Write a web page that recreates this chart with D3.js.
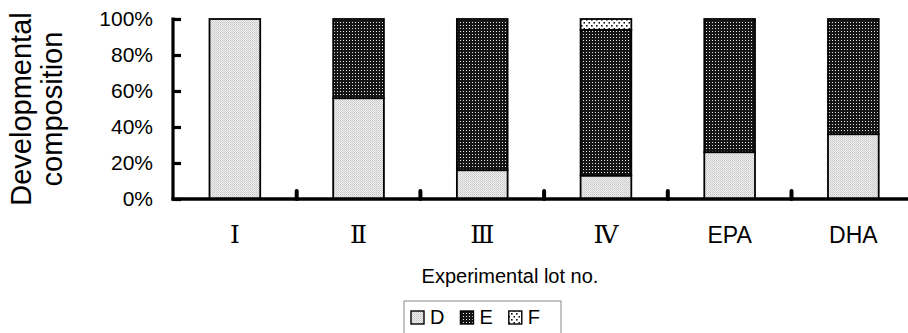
<!DOCTYPE html>
<html>
<head>
<meta charset="utf-8">
<script src="https://cdn.jsdelivr.net/npm/d3@7"></script>
<style>
  html, body { margin: 0; padding: 0; background: #fff; }
  svg { display: block; }
</style>
</head>
<body>
<svg id="chart" width="908" height="333"></svg>
<script>
// ---- data ----
const categories = ["Ⅰ", "Ⅱ", "Ⅲ", "Ⅳ", "EPA", "DHA"];
const seriesNames = ["D", "E", "F"];
const valuesD = [100, 56, 16, 13, 26, 36];
const valuesE = [0, 44, 84, 81, 74, 64];
const valuesF = [0, 0, 0, 6, 0, 0];
const yTicks = [0, 20, 40, 60, 80, 100];
const yTitleLines = ["Developmental", "composition"];
const xTitle = "Experimental lot no.";

(function () {
const rows = categories.map((c, i) => ({ cat: c, D: valuesD[i], E: valuesE[i], F: valuesF[i] }));

const svg = d3.select("#chart");
const plotLeft = 173, plotTop = 19, plotBottom = 199, step = 123.7;
const x = d3.scaleBand().domain(categories)
  .range([plotLeft, plotLeft + step * categories.length])
  .paddingInner(0.59).paddingOuter(0.295);
const y = d3.scaleLinear().domain([0, 100]).range([plotBottom, plotTop]);

// ---- patterns ----
const defs = svg.append("defs");
const pD = defs.append("pattern").attr("id", "patD").attr("patternUnits", "userSpaceOnUse")
  .attr("width", 2).attr("height", 2);
pD.append("rect").attr("width", 2).attr("height", 2).attr("fill", "#efefef");
pD.append("rect").attr("width", 1).attr("height", 1).attr("fill", "#c6c6c6");
pD.append("rect").attr("x", 1).attr("y", 1).attr("width", 1).attr("height", 1).attr("fill", "#d4d4d4");

const pE = defs.append("pattern").attr("id", "patE").attr("patternUnits", "userSpaceOnUse")
  .attr("width", 3).attr("height", 3);
pE.append("rect").attr("width", 3).attr("height", 3).attr("fill", "#151515");
pE.append("rect").attr("x", 1).attr("y", 1).attr("width", 1).attr("height", 1).attr("fill", "#e6e6e6");

const pF = defs.append("pattern").attr("id", "patF").attr("patternUnits", "userSpaceOnUse")
  .attr("width", 5).attr("height", 6);
pF.append("rect").attr("width", 5).attr("height", 6).attr("fill", "#ffffff");
pF.append("rect").attr("x", 1).attr("y", 1).attr("width", 1.6).attr("height", 1.6).attr("fill", "#111");
pF.append("rect").attr("x", 3.5).attr("y", 4).attr("width", 1.6).attr("height", 1.6).attr("fill", "#111");

const fills = { D: "url(#patD)", E: "url(#patE)", F: "url(#patF)" };

// ---- bars ----
const stack = d3.stack().keys(seriesNames)(rows);
svg.append("g").selectAll("g").data(stack).join("g")
  .attr("fill", d => fills[d.key])
  .selectAll("rect").data(d => d.filter(s => s[1] - s[0] > 0)).join("rect")
  .attr("x", d => x(d.data.cat))
  .attr("width", x.bandwidth())
  .attr("y", d => y(d[1]))
  .attr("height", d => y(d[0]) - y(d[1]))
  .attr("stroke", "#000").attr("stroke-width", 1.8);

// ---- y axis ----
const yAxis = svg.append("g").attr("transform", `translate(${plotLeft},0)`)
  .call(d3.axisLeft(y).tickValues(yTicks).tickFormat(d => d + "%")
    .tickSize(-8).tickSizeOuter(0).tickPadding(20));
yAxis.select(".domain").remove();
yAxis.selectAll(".tick line").attr("stroke", "#000").attr("stroke-width", 3.2);
yAxis.selectAll("text").attr("font-family", "Liberation Sans, Arial, sans-serif")
  .attr("font-size", 21).attr("fill", "#000");
svg.append("line").attr("x1", plotLeft).attr("x2", plotLeft).attr("y1", y(100) - 1.5).attr("y2", plotBottom + 1.5)
  .attr("stroke", "#000").attr("stroke-width", 3.2);

// ---- x axis ----
svg.append("line").attr("x1", plotLeft - 1.5).attr("x2", x.range()[1]).attr("y1", plotBottom).attr("y2", plotBottom)
  .attr("stroke", "#000").attr("stroke-width", 3.6);
const boundaries = categories.slice(0, -1).map(c => x(c) + x.bandwidth() / 2 + x.step() / 2);
svg.append("g").selectAll("line").data(boundaries).join("line")
  .attr("x1", d => d).attr("x2", d => d).attr("y1", plotBottom).attr("y2", plotBottom - 8)
  .attr("stroke", "#000").attr("stroke-width", 4).attr("stroke-linecap", "round");

const xAxis = svg.append("g").attr("transform", `translate(0,${plotBottom})`)
  .call(d3.axisBottom(x).tickSize(0).tickPadding(0));
xAxis.select(".domain").remove();
xAxis.selectAll("text")
  .attr("dy", null).attr("y", 44)
  .attr("fill", "#000")
  .attr("font-family", d => /^[A-Z]+$/.test(d) ? "Liberation Sans, Arial, sans-serif" : "DejaVu Serif, Noto Sans CJK JP, serif")
  .attr("font-size", d => /^[A-Z]+$/.test(d) ? 23 : 25);

// ---- titles ----
const yTitleX = [31, 62];
svg.append("g").selectAll("text").data(yTitleLines).join("text")
  .attr("transform", (d, i) => `translate(${yTitleX[i]},109) rotate(-90)`)
  .attr("text-anchor", "middle")
  .attr("font-family", "Liberation Sans, Arial, sans-serif")
  .attr("font-size", 29).attr("fill", "#000")
  .text(d => d);

svg.append("text").attr("x", 510).attr("y", 283).attr("text-anchor", "middle")
  .attr("font-family", "Liberation Sans, Arial, sans-serif")
  .attr("font-size", 20).attr("fill", "#000").text(xTitle);

// ---- legend ----
const lg = svg.append("g");
lg.append("rect").attr("x", 404).attr("y", 301).attr("width", 157).attr("height", 40)
  .attr("fill", "#fff").attr("stroke", "#888").attr("stroke-width", 1);
let lx = 411;
seriesNames.forEach(k => {
  lg.append("rect").attr("x", lx).attr("y", 311).attr("width", 13).attr("height", 13)
    .attr("fill", fills[k]).attr("stroke", "#000").attr("stroke-width", 1.4);
  const t = lg.append("text").attr("x", lx + 19).attr("y", 324)
    .attr("font-family", "Liberation Sans, Arial, sans-serif")
    .attr("font-size", 20).attr("fill", "#000").text(k);
  lx = lx + 19 + t.node().getComputedTextLength() + 16;
});
})();
</script>
</body>
</html>
